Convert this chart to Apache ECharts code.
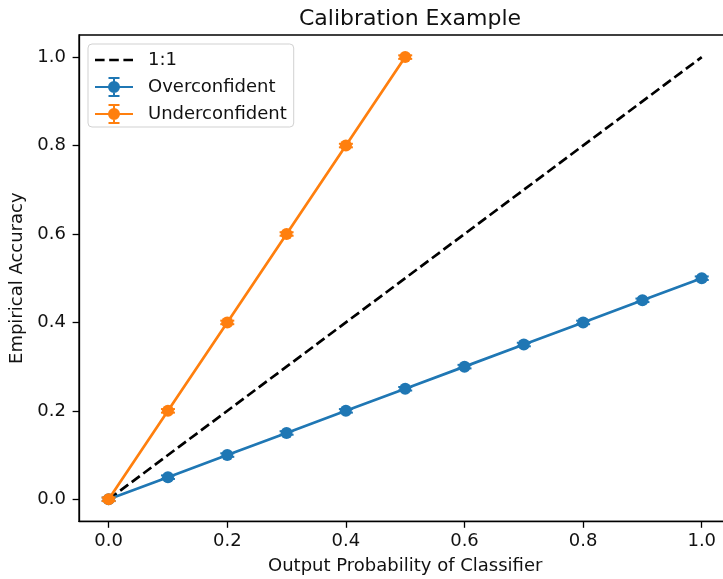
<!DOCTYPE html>
<html>
<head>
<meta charset="utf-8">
<script src="https://cdn.jsdelivr.net/npm/echarts@6/dist/echarts.min.js"></script>
<style>
  html, body { margin: 0; padding: 0; background: #fff; }
  #chart { width: 723px; height: 579px; }
</style>
</head>
<body>
<div id="chart"></div>
<script>
// Calibration curves: predicted probability vs. observed accuracy
const overX = [0.0, 0.1, 0.2, 0.3, 0.4, 0.5, 0.6, 0.7, 0.8, 0.9, 1.0];
const overY = [0.0, 0.05, 0.10, 0.15, 0.20, 0.25, 0.30, 0.35, 0.40, 0.45, 0.50];
const overErr = [0.004, 0.004, 0.004, 0.004, 0.004, 0.004, 0.004, 0.004, 0.004, 0.004, 0.004];

const underX = [0.0, 0.1, 0.2, 0.3, 0.4, 0.5];
const underY = [0.0, 0.2, 0.4, 0.6, 0.8, 1.0];
const underErr = [0.004, 0.004, 0.004, 0.004, 0.004, 0.004];

const diagX = [0.0, 1.0];
const diagY = [0.0, 1.0];

const xTicks = [0.0, 0.2, 0.4, 0.6, 0.8, 1.0];
const yTicks = [0.0, 0.2, 0.4, 0.6, 0.8, 1.0];

const BLUE = '#1f77b4';
const ORANGE = '#ff7f0e';
const FONT = 'DejaVu Sans';
const TEXT = '#111';

const zip2 = (a, b) => a.map((v, i) => [v, b[i]]);
const zip3 = (a, b, c) => a.map((v, i) => [v, b[i], c[i]]);

// legend glyph: line + marker + capped error bar (38 x 20 box)
const errIcon = 'path://M0 9 L38 9 L38 11 L0 11 Z M18 0 L20 0 L20 20 L18 20 Z ' +
  'M13.5 0 L24.5 0 L24.5 2 L13.5 2 Z M13.5 18 L24.5 18 L24.5 20 L13.5 20 Z ' +
  'M13 10 A6 6 0 1 1 25 10 A6 6 0 1 1 13 10 Z';
// legend glyph: three dashes, same 38 x 20 box (tiny corner specks pin the bounds)
const dashIcon = 'path://M0 0 L0.01 0 L0.01 0.01 Z M37.99 19.99 L38 19.99 L38 20 Z ' +
  'M0 8.65 L9.6 8.65 L9.6 11.35 L0 11.35 Z M14.2 8.65 L23.8 8.65 L23.8 11.35 L14.2 11.35 Z ' +
  'M28.4 8.65 L38 8.65 L38 11.35 L28.4 11.35 Z';

function errorBars(color) {
  return function (params, api) {
    const x = api.value(0), y = api.value(1), e = api.value(2);
    const top = api.coord([x, y + e]);
    const bot = api.coord([x, y - e]);
    const hw = 7;
    const st = { stroke: color, lineWidth: 2 };
    return {
      type: 'group',
      children: [
        { type: 'line', shape: { x1: top[0], y1: top[1], x2: bot[0], y2: bot[1] }, style: st },
        { type: 'line', shape: { x1: top[0] - hw, y1: top[1], x2: top[0] + hw, y2: top[1] }, style: st },
        { type: 'line', shape: { x1: bot[0] - hw, y1: bot[1], x2: bot[0] + hw, y2: bot[1] }, style: st }
      ]
    };
  };
}

const chart = echarts.init(document.getElementById('chart'), null, { renderer: 'canvas' });

const axisCommon = {
  type: 'value',
  min: -0.05,
  max: 1.05,
  splitLine: { show: false },
  axisLine: { show: true, onZero: false, lineStyle: { color: '#000', width: 1.3 } },
  axisTick: { show: true, inside: false, length: 6.4, lineStyle: { color: '#000', width: 1.3 } },
  nameLocation: 'middle',
  nameTextStyle: { fontFamily: FONT, fontSize: 18, color: TEXT }
};

chart.setOption({
  animation: false,
  backgroundColor: '#fff',
  title: {
    text: 'Calibration Example',
    left: 405,
    top: 3,
    textAlign: 'center',
    textStyle: { fontFamily: FONT, fontSize: 22, fontWeight: 'normal', color: TEXT }
  },
  grid: {
    left: 79, right: -8.4, top: 35, bottom: 57.6,
    containLabel: false,
    outerBoundsMode: 'none',
    show: true, borderColor: '#000', borderWidth: 1.3, backgroundColor: 'transparent'
  },
  legend: {
    orient: 'vertical',
    left: 88,
    top: 44,
    padding: [6, 7, 3, 7],
    itemWidth: 38,
    itemHeight: 20,
    itemGap: 7,
    backgroundColor: 'rgba(255,255,255,0.8)',
    borderColor: 'rgba(204,204,204,0.9)',
    borderWidth: 1,
    borderRadius: 4,
    itemStyle: { borderWidth: 0 },
    textStyle: { fontFamily: FONT, fontSize: 18, color: TEXT, padding: [0, 0, 0, 10] },
    data: [
      { name: '1:1', icon: dashIcon },
      { name: 'Overconfident', icon: errIcon },
      { name: 'Underconfident', icon: errIcon }
    ]
  },
  xAxis: Object.assign({}, axisCommon, {
    name: 'Output Probability of Classifier',
    nameGap: 36,
    axisTick: Object.assign({}, axisCommon.axisTick, { customValues: xTicks }),
    axisLabel: {
      customValues: xTicks,
      margin: 11,
      fontFamily: FONT, fontSize: 18, color: TEXT,
      formatter: v => v.toFixed(1)
    }
  }),
  yAxis: Object.assign({}, axisCommon, {
    name: 'Empirical Accuracy',
    nameGap: 50,
    axisTick: Object.assign({}, axisCommon.axisTick, { customValues: yTicks }),
    axisLabel: {
      customValues: yTicks,
      margin: 13,
      fontFamily: FONT, fontSize: 18, color: TEXT,
      formatter: v => v.toFixed(1)
    }
  }),
  series: [
    {
      name: '1:1',
      type: 'line',
      data: zip2(diagX, diagY),
      symbol: 'none',
      color: '#000',
      itemStyle: { color: '#000' },
      lineStyle: { color: '#000', width: 2.7, type: [10, 4.4] },
      z: 2
    },
    {
      name: 'Overconfident',
      type: 'line',
      data: zip2(overX, overY),
      symbol: 'circle',
      symbolSize: 12,
      color: BLUE,
      itemStyle: { color: BLUE, borderWidth: 0 },
      lineStyle: { color: BLUE, width: 2.7 },
      z: 3
    },
    {
      name: 'Overconfident',
      type: 'custom',
      data: zip3(overX, overY, overErr),
      renderItem: errorBars(BLUE),
      color: BLUE,
      z: 3
    },
    {
      name: 'Underconfident',
      type: 'line',
      data: zip2(underX, underY),
      symbol: 'circle',
      symbolSize: 12,
      color: ORANGE,
      itemStyle: { color: ORANGE, borderWidth: 0 },
      lineStyle: { color: ORANGE, width: 2.7 },
      z: 4
    },
    {
      name: 'Underconfident',
      type: 'custom',
      data: zip3(underX, underY, underErr),
      renderItem: errorBars(ORANGE),
      color: ORANGE,
      z: 4
    }
  ]
});
</script>
</body>
</html>
